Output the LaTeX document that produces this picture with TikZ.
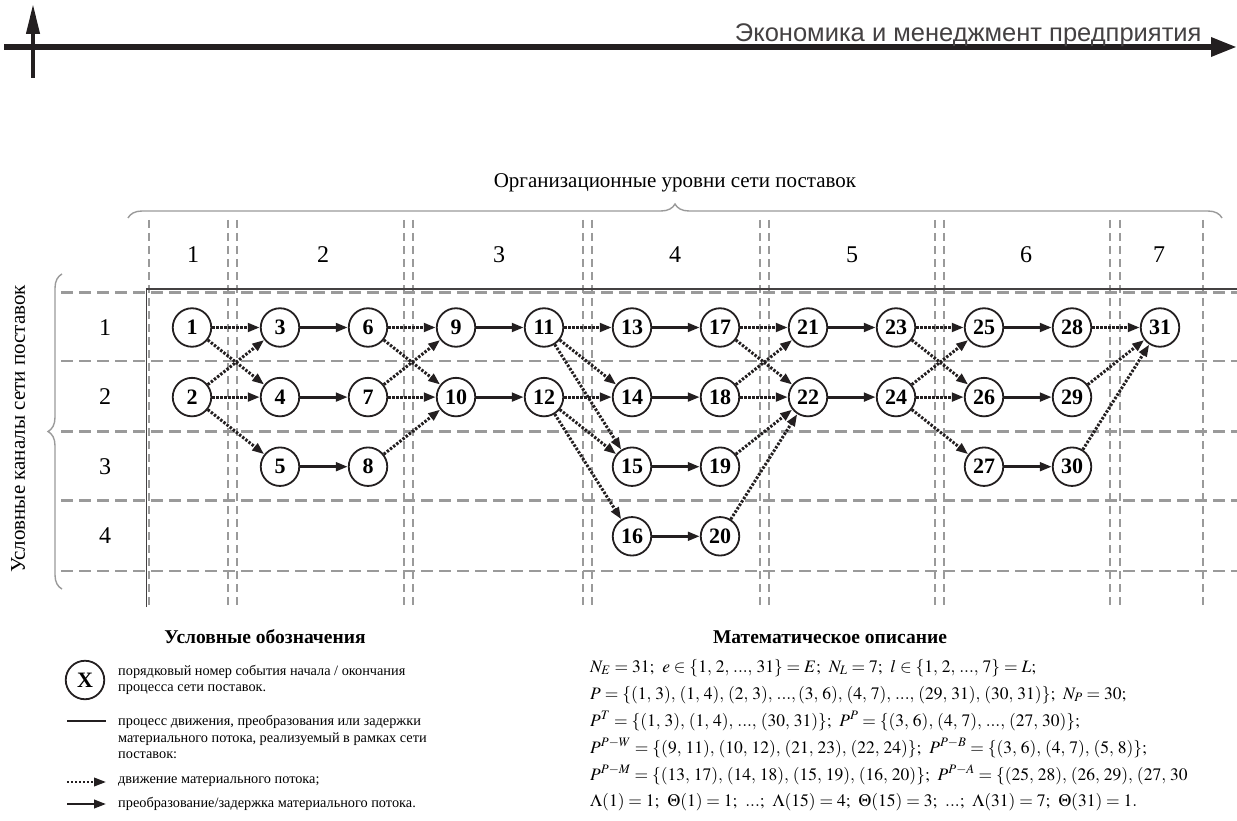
\documentclass[tikz,border=0pt]{standalone}
\usepackage{amsmath}
\usepackage{mathptmx}
\usepackage[no-math]{fontspec}
\setmainfont{Liberation Serif}
\newfontfamily\headfont{Liberation Sans}
\usepackage{xcolor}
\usepackage{tikz}
\usetikzlibrary{arrows.meta, positioning, decorations.pathreplacing}
\definecolor{gridgray}{HTML}{9A9A9A}
\definecolor{ink}{HTML}{231F20}
\newcommand{\sep}{;\;\,}

\begin{document}
\begin{tikzpicture}[x=1pt, y=-1pt,
  event/.style={circle, draw=ink, line width=1.8pt, fill=white, minimum size=38.5pt, inner sep=0pt, font=\fontsize{22}{22}\selectfont\bfseries},
  move/.style={draw=ink, line width=3pt, dash pattern=on 2.4pt off 1.6pt, -{Triangle[length=12pt, width=8.5pt]}},
  conv/.style={draw=ink, line width=3pt, -{Triangle[length=12pt, width=8.5pt]}},
  hgrid/.style={draw=gridgray, line width=2.3pt, dash pattern=on 12pt off 6pt},
  vgrid/.style={draw=gridgray, line width=2pt, dash pattern=on 8pt off 5pt},
  gbrace/.style={draw=gridgray, line width=1.4pt, decorate, decoration={brace, amplitude=14pt}},
  lvl/.style={font=\fontsize{24}{24}\selectfont},
  keytext/.style={anchor=west, align=left, inner sep=0pt, font=\fontsize{14.3}{16.5}\selectfont},
  mathline/.style={anchor=base west, inner sep=0pt, font=\fontsize{17.5}{17.5}\selectfont}]
  \useasboundingbox (0,0) rectangle (1237,821);

  % header
  \coordinate (hl) at (4,47);
  \coordinate (hr) at (1237,47);
  \coordinate (vb) at (33,78);
  \coordinate (vt) at (33,4);
  \draw[ink, line width=6pt, -{Triangle[length=26pt, width=18pt]}] (hl) -- (hr);
  \draw[ink, line width=4pt, -{Triangle[length=30pt, width=13pt]}] (vb) -- (vt);
  \node[anchor=base east, text=ink!85, font=\headfont\fontsize{25.5}{25.5}\selectfont] (journal) at (1205,42) {Экономика и менеджмент предприятия};

  % grid
  \foreach \y in {292.5,361,431.5,500.5,571}
    \draw[hgrid] (61,\y) -- (1237,\y);
  \foreach \x in {149,228,237,404,413,583,592,760,769,935,944,1110,1120,1203}
    \draw[vgrid] (\x,220) -- (\x,607);
  \draw[ink!85, line width=1.4pt] (146.5,607) -- (146.5,289) -- (1237,289);

  % levels and channels
  \draw[gbrace] (128,218) -- (1222,218);
  \draw[gbrace] (62,589) -- (62,274);
  \node[font=\fontsize{21}{21}\selectfont] (lvltitle) at (675,183) {Организационные уровни сети поставок};
  \node[rotate=90, font=\fontsize{21}{21}\selectfont] (chntitle) at (18,429) {Условные каналы сети поставок};
  \foreach \i/\x in {1/193, 2/323, 3/499, 4/675, 5/852, 6/1026, 7/1159}
    \node[lvl] (lvl\i) at (\x,255) {\i};
  \foreach \i/\y in {1/327.5, 2/397, 3/466.5, 4/536}
    \node[lvl] (chn\i) at (105,\y) {\i};

  % events
  \foreach \n/\c/\r in {1/0/0, 2/0/1, 3/1/0, 4/1/1, 5/1/2, 6/2/0, 7/2/1, 8/2/2, 9/3/0, 10/3/1,
      11/4/0, 12/4/1, 13/5/0, 14/5/1, 15/5/2, 16/5/3, 17/6/0, 18/6/1, 19/6/2, 20/6/3,
      21/7/0, 22/7/1, 23/8/0, 24/8/1, 25/9/0, 26/9/1, 27/9/2, 28/10/0, 29/10/1, 30/10/2, 31/11/0}
    \node[event] (e\n) at ({192+88*\c}, {327.5+69.6*\r}) {\n};

  % flows
  \foreach \a/\b in {1/3, 1/4, 2/3, 2/4, 2/5, 6/9, 6/10, 7/9, 7/10, 8/10, 11/13, 11/14, 11/15, 12/14, 12/15, 12/16,
      17/21, 17/22, 18/21, 18/22, 19/22, 20/22, 23/25, 23/26, 24/25, 24/26, 24/27, 28/31, 29/31, 30/31}
    \draw[move] (e\a) -- (e\b);
  \foreach \a/\b in {3/6, 4/7, 5/8, 9/11, 10/12, 13/17, 14/18, 15/19, 16/20, 21/23, 22/24, 25/28, 26/29, 27/30}
    \draw[conv] (e\a) -- (e\b);

  % legend
  \node[font=\fontsize{19.5}{19.5}\selectfont\bfseries] (keytitle) at (265,637) {Условные обозначения};
  \node[event] (keyev) at (85,680) {X};
  \node[keytext] (key1) at (118,680) {порядковый номер события начала / окончания\\процесса сети поставок.};
  \coordinate (k2a) at (67,721);
  \coordinate (k2b) at (106,721);
  \draw[ink, line width=2.4pt] (k2a) -- (k2b);
  \node[keytext] (key2) at (118,737) {процесс движения, преобразования или задержки\\материального потока, реализуемый в рамках сети\\поставок:};
  \coordinate (k3a) at (67,782);
  \coordinate (k3b) at (106,782);
  \draw[move, line width=2.2pt] (k3a) -- (k3b);
  \node[keytext] (key3) at (118,782) {движение материального потока;};
  \coordinate (k4a) at (67,804);
  \coordinate (k4b) at (106,804);
  \draw[conv, line width=2.4pt] (k4a) -- (k4b);
  \node[keytext] (key4) at (118,804) {преобразование/задержка материального потока.};

  % math
  \node[font=\fontsize{19.5}{19.5}\selectfont\bfseries] (mathtitle) at (830,637) {Математическое описание};
  \node[mathline] (m1) at (590,672) {$N_E = 31\sep e \in \{1,\,2,\,...,\,31\} = E\sep N_L = 7\sep l \in \{1,\,2,\,...,\,7\} = L;$};
  \node[mathline] (m2) at (590,699) {$P = \{(1,\,3),\,(1,\,4),\,(2,\,3),\,...,(3,\,6),\,(4,\,7),\,...,\,(29,\,31),\,(30,\,31)\}\sep N_P = 30;$};
  \node[mathline] (m3) at (590,726) {$P^T = \{(1,\,3),\,(1,\,4),\,...,\,(30,\,31)\}\sep P^P = \{(3,\,6),\,(4,\,7),\,...,\,(27,\,30)\};$};
  \node[mathline] (m4) at (590,753) {$P^{P-W} = \{(9,\,11),\,(10,\,12),\,(21,\,23),\,(22,\,24)\}\sep P^{P-B} = \{(3,\,6),\,(4,\,7),\,(5,\,8)\};$};
  \node[mathline] (m5) at (590,780) {$P^{P-M} = \{(13,\,17),\,(14,\,18),\,(15,\,19),\,(16,\,20)\}\sep P^{P-A} = \{(25,\,28),\,(26,\,29),\,(27,\,30$};
  \node[mathline] (m6) at (590,806) {$\Lambda(1) = 1\sep \Theta(1) = 1\sep ...\sep \Lambda(15) = 4\sep \Theta(15) = 3\sep ...\sep \Lambda(31) = 7\sep \Theta(31) = 1.$};
\end{tikzpicture}
\end{document}
